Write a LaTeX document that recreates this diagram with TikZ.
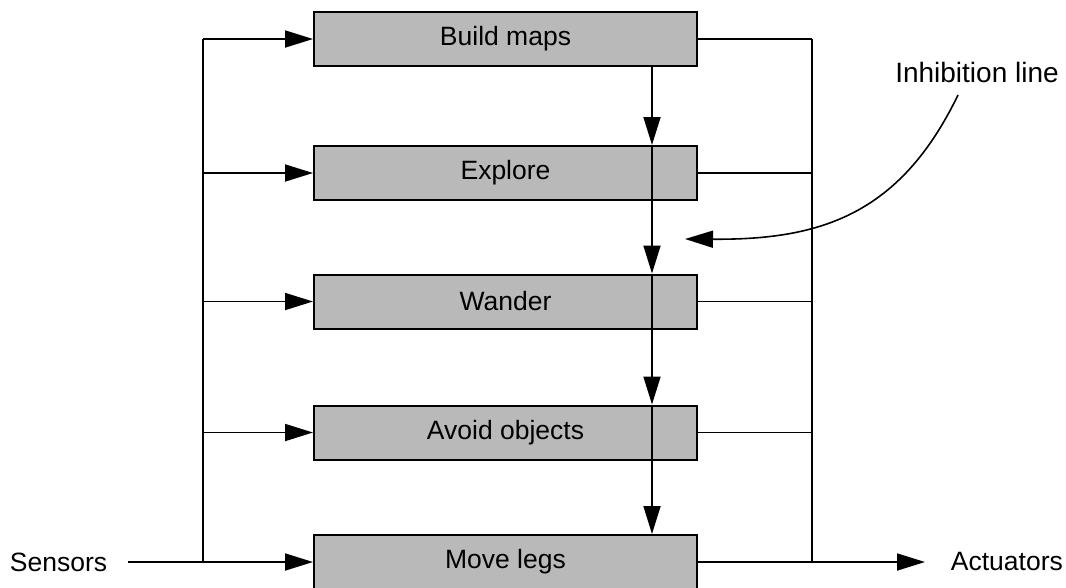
\documentclass[tikz,border=0pt]{standalone}
\usepackage{fontspec}
\setmainfont{Liberation Sans}
\usetikzlibrary{arrows.meta}
\begin{document}
\begin{tikzpicture}[x=1pt,y=-1pt,
  line width=1.8pt,
  lbl/.style={font=\fontsize{26.5}{30}\selectfont},
  box/.style={draw, line width=2pt, fill=gray!55, minimum width=383pt,
    minimum height=54pt, inner sep=0pt, lbl},
  arr/.style={-{Triangle[length=28pt,width=17pt]}}]
\useasboundingbox (0,0) rectangle (1066,587);
\clip (0,0) rectangle (1066,587);
% boxes
\node[box] (bm) at (505.5,39) {Build maps};
\node[box] (ex) at (505.5,173) {Explore};
\node[box] (wa) at (505.5,301.5) {Wander};
\node[box] (av) at (505.5,432.5) {Avoid objects};
\node[box] (ml) at (505.5,562) {Move legs};
% labels
\node[lbl, anchor=east, inner xsep=20pt, inner ysep=0pt] (sen) at (128,562) {Sensors};
\node[lbl, anchor=west, inner xsep=25pt, inner ysep=0pt] (act) at (925,562) {Actuators};
\node[font=\fontsize{28}{32}\selectfont, inner sep=0pt] (inh) at (977,72) {Inhibition line};
% bus coordinates
\coordinate (L) at (203,0);
\coordinate (M) at (652,0);
\coordinate (R) at (812,0);
% left bus
\draw (L |- bm.west) -- (L |- ml.west);
\draw[arr] (L |- bm.west) -- (bm.west);
\draw[arr] (L |- ex.west) -- (ex.west);
\draw[arr] (L |- wa.west) -- (wa.west);
\draw[arr] (L |- av.west) -- (av.west);
\draw[arr] (sen.east) -- (ml.west);
% right bus
\draw (R |- bm.east) -- (R |- ml.east);
\draw (bm.east) -- (R |- bm.east);
\draw (ex.east) -- (R |- ex.east);
\draw (wa.east) -- (R |- wa.east);
\draw (av.east) -- (R |- av.east);
\draw[arr] (ml.east) -- (act.west);
% inhibition chain
\draw[arr] (M |- bm.south) -- (M |- ex.north);
\draw (M |- ex.north) -- (M |- ex.south);
\draw[arr] (M |- ex.south) -- (M |- wa.north);
\draw (M |- wa.north) -- (M |- wa.south);
\draw[arr] (M |- wa.south) -- (M |- av.north);
\draw (M |- av.north) -- (M |- av.south);
\draw[arr] (M |- av.south) -- (M |- ml.north);
% inhibition pointer
\coordinate (cs) at (958,95);
\coordinate (ct) at (685,239);
\draw[arr, line width=1.6pt] (cs) .. controls (900,215) and (820,240) .. (ct);
\end{tikzpicture}
\end{document}
